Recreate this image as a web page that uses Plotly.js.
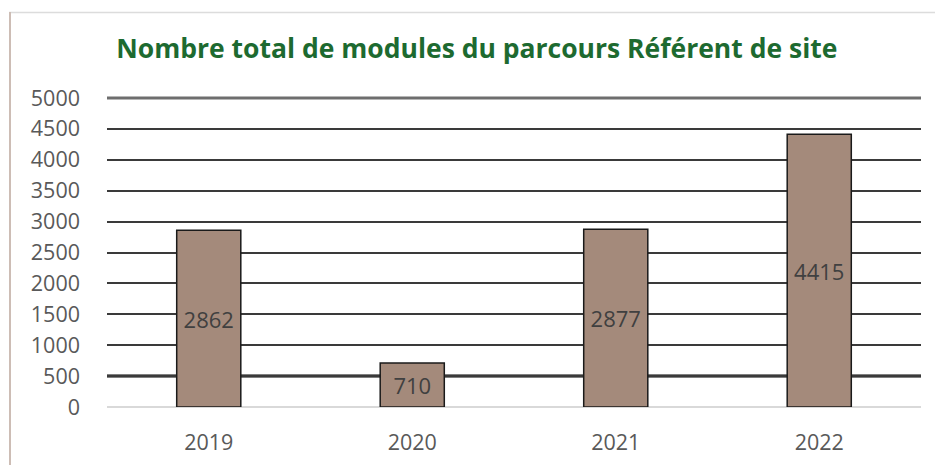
<!DOCTYPE html>
<html>
<head>
<meta charset="utf-8">
<script src="https://cdn.plot.ly/plotly-3.0.1.min.js"></script>
<style>html,body{margin:0;padding:0;background:#fff;}#chart{width:935px;height:465px;}</style>
</head>
<body>
<div id="chart"></div>
<script>
const years = ['2019', '2020', '2021', '2022'];
const modules = [2862, 710, 2877, 4415];
const yTicks = [0, 500, 1000, 1500, 2000, 2500, 3000, 3500, 4000, 4500, 5000];

const trace = {
  type: 'bar',
  x: years,
  y: modules,
  text: modules.map(String),
  textposition: 'inside',
  insidetextanchor: 'middle',
  textangle: 0,
  textfont: {family: 'Open Sans', size: 22, color: '#404040'},
  marker: {color: '#a48a7b', line: {color: '#1a1a1a', width: 1.5}},
  width: 0.315,
  hoverinfo: 'none'
};

const shapes = [
  {type: 'line', xref: 'paper', yref: 'paper', x0: 0, x1: 1, y0: 1, y1: 1, line: {color: '#6e6e6e', width: 3}, layer: 'above'},
  {type: 'line', xref: 'paper', yref: 'y', x0: 0, x1: 1, y0: 500, y1: 500, line: {color: '#000000', width: 3}, layer: 'between'},
  {type: 'line', xref: 'paper', yref: 'paper', x0: 0, x1: 1, y0: 0, y1: 0, line: {color: '#d9d9d9', width: 2}, layer: 'between'}
];

const layout = {
  width: 935, height: 465,
  margin: {l: 107, r: 14, t: 98, b: 58},
  paper_bgcolor: 'rgba(0,0,0,0)',
  plot_bgcolor: 'rgba(0,0,0,0)',
  showlegend: false,
  bargap: 0.685,
  title: {
    text: 'Nombre total de modules du parcours Référent de site',
    font: {family: 'Open Sans', size: 26.5, color: '#1d6a30', weight: 700},
    x: 0.51, xref: 'container', xanchor: 'center',
    y: 48, yref: 'container', yanchor: 'middle'
  },
  xaxis: {
    type: 'category',
    showgrid: false, zeroline: false, showline: false,
    ticks: '',
    ticklabelstandoff: 20,
    tickfont: {family: 'Open Sans', size: 21.5, color: '#595959'}
  },
  yaxis: {
    range: [0, 5000],
    tickvals: yTicks,
    ticktext: yTicks.map(String),
    showgrid: true, gridcolor: '#3a3a3a', gridwidth: 2,
    zeroline: false, showline: false, ticks: '',
    ticklabelstandoff: 26,
    tickfont: {family: 'Open Sans', size: 21.5, color: '#595959'}
  },
  shapes: shapes
};

Plotly.newPlot('chart', [trace], layout, {displayModeBar: false, staticPlot: true}).then(() => {
  // decorative frame of the original image
  const svg = document.querySelector('#chart .main-svg');
  const ns = 'http://www.w3.org/2000/svg';
  const l1 = document.createElementNS(ns, 'line');
  l1.setAttribute('x1', 9); l1.setAttribute('x2', 935); l1.setAttribute('y1', 12.5); l1.setAttribute('y2', 12.5);
  l1.setAttribute('stroke', '#dcdcdc'); l1.setAttribute('stroke-width', 1.5);
  const l2 = document.createElementNS(ns, 'line');
  l2.setAttribute('x1', 10); l2.setAttribute('x2', 10); l2.setAttribute('y1', 12); l2.setAttribute('y2', 465);
  l2.setAttribute('stroke', '#cdbdb5'); l2.setAttribute('stroke-width', 2);
  svg.appendChild(l1); svg.appendChild(l2);
});
</script>
</body>
</html>
